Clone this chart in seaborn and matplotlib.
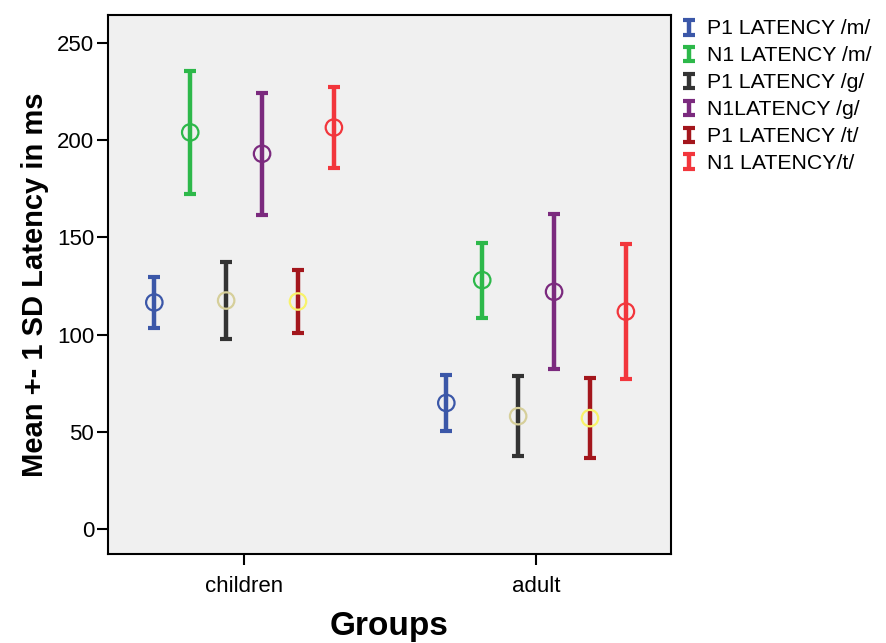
import numpy as np
import pandas as pd
import matplotlib
matplotlib.use("Agg")
import matplotlib.pyplot as plt
from matplotlib.legend_handler import HandlerErrorbar
import seaborn as sns

groups = ["children", "adult"]
series = ["P1 LATENCY /m/", "N1 LATENCY /m/", "P1 LATENCY /g/",
          "N1LATENCY /g/", "P1 LATENCY /t/", "N1 LATENCY/t/"]
means_children = [116.5, 204.0, 117.5, 193.0, 117.0, 206.5]
sd_children = [13.0, 31.7, 19.8, 31.5, 16.2, 21.0]
means_adult = [64.8, 128.0, 58.0, 122.0, 57.0, 111.8]
sd_adult = [14.2, 19.3, 20.5, 39.8, 20.6, 34.7]
yticks = [0, 50, 100, 150, 200, 250]

bar_colors = ["#3B57A8", "#2DB84A", "#333333", "#7B2A7E", "#A3161C", "#F2363C"]
marker_colors = ["#3B57A8", "#2DB84A", "#D6CF9A", "#7B2A7E", "#F8F36B", "#F2363C"]

sns.set_style("white")
plt.rcParams["font.family"] = ["Liberation Sans", "DejaVu Sans"]
plt.rcParams["text.color"] = "black"
plt.rcParams["axes.labelcolor"] = "black"
plt.rcParams["xtick.color"] = "black"
plt.rcParams["ytick.color"] = "black"

rows = []
for gi, (m_list, s_list) in enumerate([(means_children, sd_children), (means_adult, sd_adult)]):
    for si, name in enumerate(series):
        rows.append({"group": groups[gi], "gi": gi, "si": si, "series": name,
                     "mean": m_list[si], "sd": s_list[si]})
df = pd.DataFrame(rows)
step = 0.123
df["x"] = df["gi"] + (df["si"] - 2.5) * step

fig = plt.figure(figsize=(8.87, 6.43), dpi=100)
ax = fig.add_axes([0.1218, 0.1384, 0.6347, 0.8383])
ax.set_facecolor("#F0F0F0")

handles = []
for si, name in enumerate(series):
    sub = df[df["si"] == si]
    h = ax.errorbar(sub["x"], sub["mean"], yerr=sub["sd"], fmt="none",
                    ecolor=bar_colors[si], elinewidth=3.2, capsize=4.0,
                    capthick=3.0, label=name, zorder=2)
    handles.append(h)

sns.scatterplot(data=df, x="x", y="mean", hue="series",
                palette=dict(zip(series, marker_colors)), marker="o", s=140,
                legend=False, ax=ax, zorder=3)
coll = ax.collections[-1]
fc = coll.get_facecolors()
coll.set_edgecolors(fc)
coll.set_facecolors("none")
coll.set_linewidths(1.6)

ax.set_xlim(-0.466, 1.462)
ax.set_ylim(-12.9, 264.4)
ax.set_xticks([0, 1])
ax.set_xticklabels(groups)
ax.set_yticks(yticks)
ax.tick_params(axis="both", direction="out", length=8, width=1.5,
               labelsize=16, colors="black", left=True, bottom=True)
ax.tick_params(axis="x", pad=8)
ax.tick_params(axis="y", pad=2)
for sp in ax.spines.values():
    sp.set_color("black")
    sp.set_linewidth(1.5)

ax.set_xlabel("Groups", fontsize=24, fontweight="bold", labelpad=10)
ax.set_ylabel("Mean +- 1 SD Latency in ms", fontsize=21, fontweight="bold", labelpad=6)

hmap = {h: HandlerErrorbar(xerr_size=0.34) for h in handles}
fig.legend(handles=handles, labels=series, loc="upper left",
           bbox_to_anchor=(0.760, 0.983), frameon=False, fontsize=15.3,
           handlelength=0.6, handleheight=0.6, handletextpad=0.55,
           labelspacing=0.37, borderaxespad=0.0, handler_map=hmap)

fig.savefig("out.png", dpi=100)
